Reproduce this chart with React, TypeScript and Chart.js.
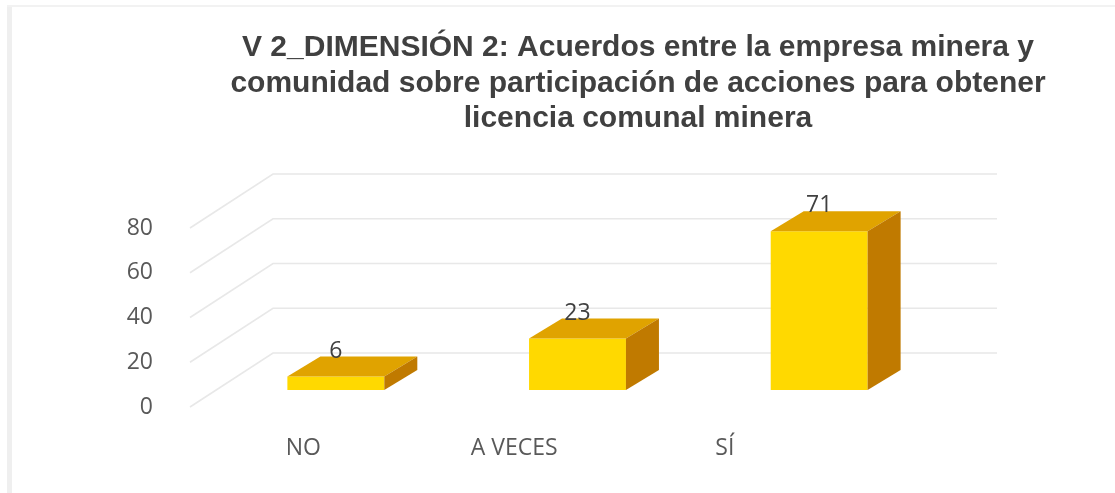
import React, { useEffect, useRef } from "react";
import { Chart, registerables } from "chart.js";

Chart.register(...registerables);

const categories = ["NO", "A VECES", "SÍ"];
const values = [6, 23, 71];
const titleLines = [
  "V 2_DIMENSIÓN 2: Acuerdos entre la empresa minera y",
  "comunidad sobre participación de acciones para obtener",
  "licencia comunal minera",
];
const yTicks = [0, 20, 40, 60, 80];

const FRONT = "#FFD900";
const TOP = "#E0A300";
const SIDE = "#C07A00";
const GRID = "#e8e8e8";
const TEXT = "#595959";

// depth offsets (oblique projection)
const BAR_DX = 33;
const BAR_DY = -20;
const WALL_FRONT_DX = -25;
const WALL_FRONT_DY = 17;
const WALL_BACK_DX = 58;
const WALL_BACK_DY = -37;

const frame3d = {
  id: "frame3d",
  beforeDraw(chart: any) {
    const { ctx, width, height } = chart;
    ctx.save();
    ctx.fillStyle = "#ffffff";
    ctx.fillRect(0, 0, width, height);
    ctx.fillStyle = "#efefef";
    ctx.fillRect(7, 5, 5, height - 5);
    ctx.fillStyle = "#f2f2f2";
    ctx.fillRect(7, 5, width - 7, 2);
    // title
    ctx.fillStyle = "#404040";
    ctx.font = "bold 30px 'Liberation Sans', Arial, sans-serif";
    ctx.textAlign = "center";
    ctx.textBaseline = "alphabetic";
    const baselines = [56, 91.5, 127];
    titleLines.forEach((t, i) => ctx.fillText(t, 638, baselines[i]));
    ctx.restore();
  },
  beforeDatasetsDraw(chart: any) {
    const { ctx, chartArea, scales } = chart;
    const ys = scales.y;
    ctx.save();
    ctx.strokeStyle = GRID;
    ctx.lineWidth = 1.6;
    yTicks.forEach((v) => {
      const py = ys.getPixelForValue(v);
      ctx.beginPath();
      ctx.moveTo(chartArea.left + WALL_FRONT_DX, py + WALL_FRONT_DY);
      ctx.lineTo(chartArea.left + WALL_BACK_DX, py + WALL_BACK_DY);
      ctx.lineTo(chartArea.right + WALL_BACK_DX - 1, py + WALL_BACK_DY);
      ctx.stroke();
    });
    ctx.restore();
  },
  afterDatasetsDraw(chart: any) {
    const { ctx, chartArea } = chart;
    const meta = chart.getDatasetMeta(0);
    ctx.save();
    meta.data.forEach((bar: any, i: number) => {
      const { x, y, base, width } = bar.getProps(["x", "y", "base", "width"], true);
      const l = x - width / 2;
      const r = x + width / 2;
      ctx.fillStyle = TOP;
      ctx.beginPath();
      ctx.moveTo(l, y);
      ctx.lineTo(r, y);
      ctx.lineTo(r + BAR_DX, y + BAR_DY);
      ctx.lineTo(l + BAR_DX, y + BAR_DY);
      ctx.closePath();
      ctx.fill();
      ctx.fillStyle = SIDE;
      ctx.beginPath();
      ctx.moveTo(r, y);
      ctx.lineTo(r + BAR_DX, y + BAR_DY);
      ctx.lineTo(r + BAR_DX, base + BAR_DY);
      ctx.lineTo(r, base);
      ctx.closePath();
      ctx.fill();
      // value label
      ctx.fillStyle = "#404040";
      ctx.font = "23px 'Open Sans', sans-serif";
      ctx.textAlign = "center";
      ctx.textBaseline = "alphabetic";
      ctx.fillText(String(values[i]), x, y + BAR_DY + 1);
      // category label (front plane)
      const lx = chartArea.left - 17 + (x - chartArea.left) * 0.872;
      ctx.fillStyle = TEXT;
      ctx.textBaseline = "middle";
      ctx.fillText(categories[i], lx, 448);
    });
    ctx.restore();
  },
};

export default function App() {
  const ref = useRef<HTMLCanvasElement>(null);
  useEffect(() => {
    document.body.style.margin = "0";
    const chart = new Chart(ref.current!, {
      type: "bar",
      data: {
        labels: categories,
        datasets: [
          {
            data: values,
            backgroundColor: FRONT,
            borderWidth: 0,
            barPercentage: 0.401,
            categoryPercentage: 1,
          },
        ],
      },
      options: {
        animation: false,
        responsive: true,
        maintainAspectRatio: false,
        layout: { padding: { top: 211, left: 0, right: 175, bottom: 103 } },
        plugins: {
          legend: { display: false },
          title: { display: false },
          tooltip: { enabled: false },
        },
        scales: {
          x: { display: false },
          y: {
            min: 0,
            max: 80,
            afterBuildTicks: (s: any) => {
              s.ticks = yTicks.map((v) => ({ value: v }));
            },
            afterFit: (s: any) => {
              s.width = 215;
            },
            grid: { display: false },
            border: { display: false },
            ticks: {
              padding: 54,
              labelOffset: 17,
              color: TEXT,
              font: { family: "'Open Sans', sans-serif", size: 23 },
            },
          },
        },
      },
      plugins: [frame3d],
    });
    return () => chart.destroy();
  }, []);
  return (
    <div style={{ width: 1115, height: 493, position: "relative" }}>
      <canvas ref={ref} />
    </div>
  );
}
